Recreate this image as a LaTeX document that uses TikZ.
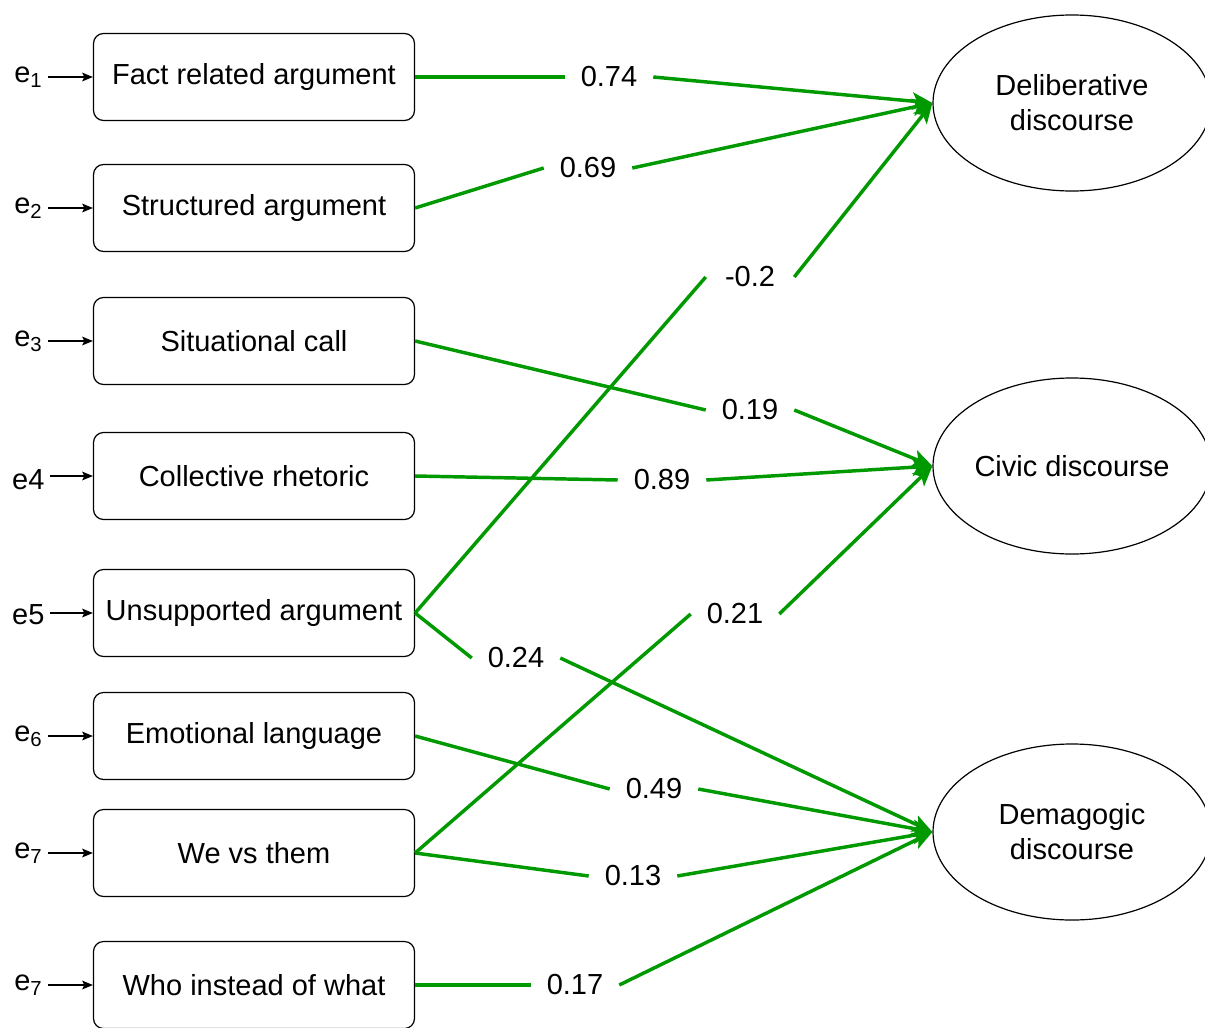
\documentclass[tikz,border=0pt]{standalone}
\usepackage{fontspec}
\setmainfont{Liberation Sans}
\usetikzlibrary{arrows.meta,shapes.geometric}
\definecolor{pathgreen}{HTML}{009900}

\begin{document}
\begin{tikzpicture}
    [
        x=0.75pt, y=-0.75pt,
        every node/.style={font=\fontsize{21.75}{26.25}\selectfont},
        indicator/.style={draw, rounded corners=7.5pt, minimum width=240.75pt, minimum height=65.25pt, line width=0.9pt},
        factor/.style={draw, ellipse, inner sep=0pt, minimum width=208.5pt, minimum height=132pt, align=center, line width=0.9pt},
        err/.style={inner xsep=4pt, inner ysep=0pt, anchor=east},
        coef/.style={minimum width=66pt, inner sep=0pt},
        errarrow/.style={line width=1.1pt, -{Stealth[length=8pt, width=6.5pt, inset=1.5pt]}},
        loading/.style={draw=pathgreen, line width=2.6pt},
        loadarrow/.style={loading, -{Stealth[length=15pt, width=13pt, inset=3.5pt]}},
    ]
    \useasboundingbox (0,0) rectangle (1205,1027);

    % observed indicators
    \node[indicator] (fact)   at (254, 77)  {Fact related argument};
    \node[indicator] (struct) at (254, 208) {Structured argument};
    \node[indicator] (situ)   at (254, 341) {Situational call};
    \node[indicator] (coll)   at (254, 476) {Collective rhetoric};
    \node[indicator] (unsup)  at (254, 613) {Unsupported argument};
    \node[indicator] (emot)   at (254, 736) {Emotional language};
    \node[indicator] (wevs)   at (254, 853) {We vs them};
    \node[indicator] (who)    at (254, 985) {Who instead of what};

    % error terms
    \node[err] (e1) at (48, 77)  {e\textsubscript{1}};
    \node[err] (e2) at (48, 208) {e\textsubscript{2}};
    \node[err] (e3) at (48, 341) {e\textsubscript{3}};
    \node[err] (e4) at (50, 480) {e4};
    \node[err] (e5) at (50, 615) {e5};
    \node[err] (e6) at (48, 736) {e\textsubscript{6}};
    \node[err] (e7) at (48, 853) {e\textsubscript{7}};
    \node[err] (e8) at (48, 985) {e\textsubscript{7}};

    \draw[errarrow] (e1.east) -- (fact.west);
    \draw[errarrow] (e2.east) -- (struct.west);
    \draw[errarrow] (e3.east) -- (situ.west);
    \draw[errarrow] (e4.east |- coll.west) -- (coll.west);
    \draw[errarrow] (e5.east |- unsup.west) -- (unsup.west);
    \draw[errarrow] (e6.east) -- (emot.west);
    \draw[errarrow] (e7.east) -- (wevs.west);
    \draw[errarrow] (e8.east) -- (who.west);

    % latent factors
    \node[factor] (delib) at (1072, 103) {Deliberative\\discourse};
    \node[factor] (civic) at (1072, 466) {Civic discourse};
    \node[factor] (demag) at (1072, 832) {Demagogic\\discourse};

    % coefficients
    \node[coef] (c074) at (609, 77)  {0.74};
    \node[coef] (c069) at (588, 168) {0.69};
    \node[coef] (c020) at (750, 277) {-0.2};
    \node[coef] (c019) at (750, 410) {0.19};
    \node[coef] (c089) at (662, 480) {0.89};
    \node[coef] (c021) at (735, 614) {0.21};
    \node[coef] (c024) at (516, 658) {0.24};
    \node[coef] (c049) at (654, 789) {0.49};
    \node[coef] (c013) at (633, 876) {0.13};
    \node[coef] (c017) at (575, 985) {0.17};

    % paths
    \draw[loading] (fact.east) -- (c074.west);
    \draw[loadarrow] (c074.east) -- (delib.west);
    \draw[loading] (struct.east) -- (c069.west);
    \draw[loadarrow] (c069.east) -- (delib.west);
    \draw[loading] (unsup.east) -- (c020.west);
    \draw[loadarrow] (c020.east) -- (delib.west);

    \draw[loading] (situ.east) -- (c019.west);
    \draw[loadarrow] (c019.east) -- (civic.west);
    \draw[loading] (coll.east) -- (c089.west);
    \draw[loadarrow] (c089.east) -- (civic.west);
    \draw[loading] (wevs.east) -- (c021.west);
    \draw[loadarrow] (c021.east) -- (civic.west);

    \draw[loading] (unsup.east) -- (c024.west);
    \draw[loadarrow] (c024.east) -- (demag.west);
    \draw[loading] (emot.east) -- (c049.west);
    \draw[loadarrow] (c049.east) -- (demag.west);
    \draw[loading] (wevs.east) -- (c013.west);
    \draw[loadarrow] (c013.east) -- (demag.west);
    \draw[loading] (who.east) -- (c017.west);
    \draw[loadarrow] (c017.east) -- (demag.west);
\end{tikzpicture}
\end{document}
